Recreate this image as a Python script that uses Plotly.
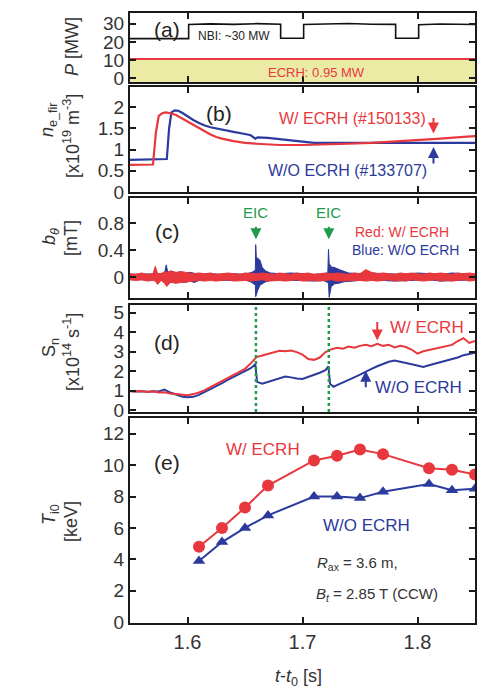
import plotly.graph_objects as go
from plotly.subplots import make_subplots

RED = "#e8383d"
BLUE = "#2b3a9c"
GREEN = "#1f9a4a"
YELLOW = "#ebeba6"
FONT = "Liberation Sans, Arial, sans-serif"

# ---------------- (a) heating power ----------------
nbi_t = [1.550, 1.601, 1.601, 1.620, 1.640, 1.660, 1.681, 1.681, 1.701, 1.701, 1.720, 1.740,
         1.760, 1.781, 1.781, 1.801, 1.801, 1.820, 1.850]
nbi_p = [21.8, 21.8, 29.6, 30.0, 29.7, 30.1, 29.8, 22.0, 22.0, 29.6, 29.9, 30.2,
         29.8, 29.7, 22.0, 22.0, 29.5, 29.9, 29.6]
ecrh_t = [1.550, 1.850]
ecrh_p = [10.6, 10.6]
a_range = [-2.2, 36]

# ---------------- (b) line density ----------------
ne_red_t = [1.550, 1.565, 1.570, 1.5725, 1.575, 1.578, 1.581, 1.585, 1.590, 1.595, 1.600, 1.605,
            1.610, 1.615, 1.620, 1.625, 1.630, 1.640, 1.650, 1.660, 1.670, 1.680, 1.700, 1.720,
            1.740, 1.760, 1.780, 1.800, 1.820, 1.840, 1.850]
ne_red = [0.64, 0.64, 0.65, 1.40, 1.80, 1.86, 1.88, 1.86, 1.82, 1.74, 1.66, 1.58,
          1.50, 1.42, 1.36, 1.30, 1.26, 1.20, 1.16, 1.14, 1.12, 1.11, 1.11, 1.12,
          1.14, 1.16, 1.19, 1.22, 1.26, 1.30, 1.32]
ne_blue_t = [1.550, 1.580, 1.582, 1.584, 1.586, 1.589, 1.592, 1.596, 1.600, 1.605, 1.610, 1.615,
             1.620, 1.630, 1.640, 1.650, 1.655, 1.659, 1.661, 1.670, 1.680, 1.690, 1.700, 1.710,
             1.720, 1.750, 1.780, 1.810, 1.850]
ne_blue = [0.76, 0.77, 0.78, 1.50, 1.88, 1.93, 1.92, 1.86, 1.78, 1.70, 1.63, 1.57,
           1.53, 1.47, 1.42, 1.37, 1.34, 1.26, 1.29, 1.28, 1.25, 1.21, 1.18, 1.16,
           1.16, 1.16, 1.15, 1.16, 1.16]

# ---------------- (c) magnetic fluctuation envelope ----------------
b_red_t = [1.550, 1.555, 1.560, 1.565, 1.570, 1.572, 1.574, 1.577, 1.580, 1.582, 1.585, 1.590,
           1.595, 1.600, 1.605, 1.610, 1.615, 1.620, 1.625, 1.630, 1.635, 1.640, 1.645, 1.650,
           1.655, 1.660, 1.665, 1.670, 1.675, 1.680, 1.685, 1.690, 1.695, 1.700, 1.705, 1.710,
           1.715, 1.720, 1.725, 1.730, 1.735, 1.740, 1.745, 1.750, 1.755, 1.760, 1.765, 1.770,
           1.775, 1.780, 1.785, 1.790, 1.795, 1.800, 1.805, 1.810, 1.815, 1.820, 1.825, 1.830,
           1.835, 1.840, 1.845, 1.850]
b_red_up = [0.05, 0.04, 0.06, 0.04, 0.05, 0.16, 0.05, 0.05, 0.08, 0.07, 0.09, 0.07,
            0.08, 0.06, 0.05, 0.06, 0.05, 0.06, 0.04, 0.05, 0.06, 0.05, 0.04, 0.06,
            0.05, 0.05, 0.06, 0.05, 0.04, 0.06, 0.05, 0.04, 0.06, 0.05, 0.06, 0.04,
            0.05, 0.06, 0.05, 0.06, 0.05, 0.04, 0.06, 0.05, 0.11, 0.07, 0.05, 0.06,
            0.05, 0.04, 0.06, 0.05, 0.06, 0.05, 0.04, 0.06, 0.05, 0.06, 0.05, 0.04,
            0.06, 0.05, 0.06, 0.05]
b_red_lo = [-0.04, -0.05, -0.04, -0.06, -0.05, -0.06, -0.11, -0.05, -0.09, -0.14, -0.08, -0.09,
            -0.07, -0.07, -0.06, -0.05, -0.06, -0.05, -0.06, -0.05, -0.04, -0.06, -0.05, -0.05,
            -0.06, -0.05, -0.04, -0.06, -0.05, -0.05, -0.06, -0.05, -0.04, -0.06, -0.05, -0.05,
            -0.06, -0.05, -0.04, -0.06, -0.05, -0.06, -0.05, -0.05, -0.06, -0.05, -0.06, -0.05,
            -0.04, -0.06, -0.05, -0.06, -0.04, -0.05, -0.06, -0.05, -0.04, -0.06, -0.05, -0.06,
            -0.05, -0.04, -0.06, -0.05]
b_blue_t = [1.550, 1.575, 1.580, 1.5815, 1.583, 1.586, 1.590, 1.594, 1.598, 1.602, 1.606, 1.610,
            1.620, 1.630, 1.640, 1.650, 1.656, 1.659, 1.6593, 1.6598, 1.661, 1.663, 1.665, 1.668,
            1.672, 1.680, 1.690, 1.700, 1.710, 1.718, 1.722, 1.7226, 1.7232, 1.725, 1.728, 1.732,
            1.736, 1.740, 1.750, 1.760, 1.770, 1.780, 1.790, 1.800, 1.810, 1.820, 1.830, 1.840, 1.850]
b_blue_up = [0.04, 0.04, 0.05, 0.18, 0.06, 0.09, 0.06, 0.08, 0.05, 0.07, 0.06, 0.04,
             0.05, 0.04, 0.05, 0.04, 0.07, 0.10, 0.48, 0.30, 0.28, 0.25, 0.14, 0.09,
             0.06, 0.05, 0.06, 0.05, 0.04, 0.05, 0.06, 0.41, 0.20, 0.15, 0.14, 0.11,
             0.08, 0.06, 0.05, 0.06, 0.05, 0.05, 0.04, 0.06, 0.05, 0.04, 0.06, 0.05, 0.04]
b_blue_lo = [-0.04, -0.04, -0.05, -0.06, -0.11, -0.07, -0.09, -0.06, -0.08, -0.06, -0.08, -0.05,
             -0.04, -0.05, -0.05, -0.04, -0.08, -0.12, -0.29, -0.25, -0.20, -0.12, -0.10, -0.07,
             -0.05, -0.06, -0.05, -0.05, -0.06, -0.05, -0.08, -0.10, -0.30, -0.14, -0.10, -0.09,
             -0.07, -0.06, -0.05, -0.04, -0.05, -0.06, -0.05, -0.05, -0.04, -0.06, -0.05, -0.05, -0.04]
eic_t = [1.6595, 1.7229]

# ---------------- (d) neutron rate ----------------
sn_red_t = [1.550, 1.555, 1.560, 1.565, 1.570, 1.575, 1.580, 1.585, 1.590, 1.595, 1.600, 1.605,
            1.610, 1.615, 1.620, 1.625, 1.630, 1.635, 1.640, 1.645, 1.650, 1.655, 1.660, 1.665,
            1.670, 1.675, 1.680, 1.685, 1.690, 1.695, 1.700, 1.705, 1.710, 1.715, 1.720, 1.725,
            1.730, 1.735, 1.740, 1.745, 1.750, 1.755, 1.760, 1.765, 1.770, 1.775, 1.780, 1.785,
            1.790, 1.795, 1.800, 1.805, 1.810, 1.815, 1.820, 1.825, 1.830, 1.835, 1.840, 1.845, 1.850]
sn_red = [0.97, 0.95, 0.98, 0.93, 0.96, 0.90, 0.92, 0.85, 0.83, 0.78, 0.76, 0.82,
          0.90, 1.02, 1.18, 1.32, 1.50, 1.66, 1.82, 1.96, 2.12, 2.40, 2.72, 2.80,
          2.88, 2.98, 3.05, 3.02, 3.06, 2.98, 2.85, 2.62, 2.58, 2.70, 2.98, 3.12,
          3.20, 3.15, 3.26, 3.20, 3.30, 3.35, 3.28, 3.40, 3.30, 3.36, 3.22, 3.30,
          3.24, 3.10, 2.90, 3.02, 3.08, 3.15, 3.20, 3.28, 3.35, 3.55, 3.70, 3.45, 3.55]
sn_blue_t = [1.550, 1.555, 1.560, 1.565, 1.570, 1.575, 1.580, 1.585, 1.590, 1.595, 1.600, 1.605,
             1.610, 1.615, 1.620, 1.625, 1.630, 1.635, 1.640, 1.645, 1.650, 1.655, 1.659, 1.6605,
             1.665, 1.670, 1.675, 1.680, 1.685, 1.690, 1.695, 1.700, 1.705, 1.710, 1.715, 1.720,
             1.7225, 1.724, 1.727, 1.730, 1.735, 1.740, 1.745, 1.750, 1.755, 1.760, 1.765, 1.770,
             1.775, 1.780, 1.785, 1.790, 1.795, 1.800, 1.805, 1.810, 1.815, 1.820, 1.825, 1.830,
             1.835, 1.840, 1.845, 1.850]
sn_blue = [0.98, 0.95, 0.97, 0.94, 0.97, 0.95, 1.05, 0.90, 0.80, 0.70, 0.66, 0.68,
           0.78, 0.92, 1.08, 1.22, 1.38, 1.55, 1.70, 1.85, 1.98, 2.15, 2.35, 1.45,
           1.35, 1.45, 1.55, 1.62, 1.72, 1.68, 1.62, 1.60, 1.70, 1.80, 1.92, 2.05,
           2.25, 1.35, 1.20, 1.28, 1.40, 1.55, 1.68, 1.82, 1.98, 2.12, 2.25, 2.38,
           2.48, 2.55, 2.50, 2.42, 2.35, 2.28, 2.22, 2.30, 2.38, 2.48, 2.55, 2.62,
           2.70, 2.82, 2.90, 2.95]

# ---------------- (e) ion temperature ----------------
ti_t = [1.61, 1.63, 1.65, 1.67, 1.71, 1.73, 1.75, 1.77, 1.81, 1.83, 1.85]
ti_red = [4.8, 6.0, 7.3, 8.7, 10.3, 10.6, 11.0, 10.7, 9.8, 9.7, 9.4]
ti_blue = [3.9, 5.1, 6.0, 6.8, 8.0, 8.0, 7.9, 8.3, 8.8, 8.4, 8.5]

x_range = [1.55, 1.85]
x_ticks = [1.6, 1.7, 1.8]

fig = make_subplots(rows=5, cols=1, shared_xaxes=True)

# (a)
fig.add_trace(go.Scatter(x=ecrh_t, y=[a_range[0]] * len(ecrh_t), mode="lines",
                         line=dict(width=0), showlegend=False, hoverinfo="skip"), row=1, col=1)
fig.add_trace(go.Scatter(x=ecrh_t, y=ecrh_p, mode="lines", fill="tonexty", fillcolor=YELLOW,
                         line=dict(color=RED, width=2), showlegend=False), row=1, col=1)
fig.add_trace(go.Scatter(x=nbi_t, y=nbi_p, mode="lines", line=dict(color="#111", width=1.6),
                         showlegend=False), row=1, col=1)
# (b)
fig.add_trace(go.Scatter(x=ne_blue_t, y=ne_blue, mode="lines", line=dict(color=BLUE, width=2.2),
                         showlegend=False), row=2, col=1)
fig.add_trace(go.Scatter(x=ne_red_t, y=ne_red, mode="lines", line=dict(color=RED, width=2.2),
                         showlegend=False), row=2, col=1)
# (c)
fig.add_trace(go.Scatter(x=b_blue_t + b_blue_t[::-1], y=b_blue_up + b_blue_lo[::-1], mode="lines",
                         fill="toself", fillcolor=BLUE, line=dict(color=BLUE, width=1),
                         showlegend=False), row=3, col=1)
fig.add_trace(go.Scatter(x=b_red_t + b_red_t[::-1], y=b_red_up + b_red_lo[::-1], mode="lines",
                         fill="toself", fillcolor=RED, line=dict(color=RED, width=1),
                         showlegend=False), row=3, col=1)
# (d)
fig.add_trace(go.Scatter(x=sn_blue_t, y=sn_blue, mode="lines", line=dict(color=BLUE, width=2),
                         showlegend=False), row=4, col=1)
fig.add_trace(go.Scatter(x=sn_red_t, y=sn_red, mode="lines", line=dict(color=RED, width=2),
                         showlegend=False), row=4, col=1)
# (e)
fig.add_trace(go.Scatter(x=ti_t, y=ti_red, mode="lines+markers", line=dict(color=RED, width=2),
                         marker=dict(symbol="circle", size=12, color=RED), showlegend=False),
              row=5, col=1)
fig.add_trace(go.Scatter(x=ti_t, y=ti_blue, mode="lines+markers", line=dict(color=BLUE, width=2),
                         marker=dict(symbol="triangle-up", size=11, color=BLUE), showlegend=False),
              row=5, col=1)

# EIC dotted lines in (d)
for t in eic_t:
    fig.add_shape(type="line", xref="x4", yref="y4 domain", x0=t, x1=t, y0=0, y1=1,
                  line=dict(color=GREEN, width=2.5, dash="dot"))

H_TOP, H_BOT = 13, 623
PLOT_H = H_BOT - H_TOP


def dom(top_px, bot_px):
    return [(H_BOT - bot_px) / PLOT_H, (H_BOT - top_px) / PLOT_H]


domains = [dom(13, 82), dom(87, 192), dom(198, 298), dom(305, 412), dom(418, 623)]
y_ranges = [a_range, [0, 2.48], [-0.31, 1.17], [-0.1, 5.4], [-0.05, 13]]
y_ticks = [[0, 10, 20, 30], [0, 0.5, 1, 1.5, 2], [0, 0.4, 0.8], [0, 1, 2, 3, 4, 5],
           [0, 2, 4, 6, 8, 10, 12]]
y_ticktext = [["0", "10", "20", "30"], ["0", "0.5", "1", "1.5", "2"], ["0", "0.4", "0.8"],
              ["0", "1", "2", "3", "4", "5"], ["0", "2", "4", "6", "8", "10", "12"]]

axis_common = dict(showline=True, linecolor="#1a1a1a", linewidth=2, mirror="ticks",
                   ticks="inside", ticklen=6, tickwidth=1.6, tickcolor="#1a1a1a",
                   showgrid=False, zeroline=False, automargin=False)
for i in range(5):
    sfx = "" if i == 0 else str(i + 1)
    fig.layout["xaxis" + sfx].update(range=x_range, tickvals=x_ticks, ticktext=["1.6", "1.7", "1.8"],
                                     showticklabels=(i == 4),
                                     tickfont=dict(size=20, color="#333", family=FONT),
                                     **axis_common)
    fig.layout["yaxis" + sfx].update(domain=domains[i], range=y_ranges[i], tickvals=y_ticks[i],
                                     ticktext=y_ticktext[i],
                                     tickfont=dict(size=19, color="#333", family=FONT),
                                     **axis_common)

ann = []


def txt(xref, yref, x, y, text, size, color="#222", xanchor="center"):
    ann.append(dict(xref=xref, yref=yref, x=x, y=y, text=text, showarrow=False,
                    font=dict(size=size, color=color, family=FONT), xanchor=xanchor,
                    yanchor="middle"))


def arrow(xref, yref, x, y, ay, color):
    ann.append(dict(xref=xref, yref=yref, x=x, y=y, ax=0, ay=ay, text="", showarrow=True,
                    arrowhead=2, arrowsize=1.1, arrowwidth=2, arrowcolor=color))


# (a)
txt("x", "y", 1.5826, 26.7, "(a)", 21)
txt("x", "y", 1.607, 23.5, "NBI: ~30 MW", 12, "#222", "left")
txt("x", "y", 1.712, 3.3, "ECRH: 0.95 MW", 13, RED)
# (b)
txt("x2", "y2", 1.627, 1.86, "(b)", 21)
txt("x2", "y2", 1.809, 1.74, "W/ ECRH (#150133)", 16, RED, "right")
txt("x2", "y2", 1.810, 0.51, "W/O ECRH (#133707)", 16, BLUE, "right")
arrow("x2", "y2", 1.8139, 1.38, -17, RED)
arrow("x2", "y2", 1.8139, 1.06, 18, BLUE)
# (c)
txt("x3", "y3", 1.5826, 0.67, "(c)", 21)
for t in eic_t:
    txt("x3", "y3", t, 0.95, "EIC", 15, GREEN)
    arrow("x3", "y3", t, 0.56, -14, GREEN)
txt("x3", "y3", 1.7435, 0.67, "Red: W/ ECRH", 14, RED, "left")
txt("x3", "y3", 1.7417, 0.40, "Blue: W/O ECRH", 14, BLUE, "left")
# (d)
txt("x4", "y4", 1.5826, 3.49, "(d)", 21)
txt("x4", "y4", 1.774, 4.26, "W/ ECRH", 17, RED, "left")
txt("x4", "y4", 1.761, 1.17, "W/O ECRH", 17, BLUE, "left")
arrow("x4", "y4", 1.765, 3.57, -20, RED)
arrow("x4", "y4", 1.755, 2.02, 18, BLUE)
# (e)
txt("x5", "y5", 1.5826, 10.15, "(e)", 21)
txt("x5", "y5", 1.666, 11.0, "W/ ECRH", 17, RED)
txt("x5", "y5", 1.7557, 6.18, "W/O ECRH", 17, BLUE)
txt("x5", "y5", 1.7113, 3.75, "<i>R</i><sub>ax</sub> = 3.6 m,", 15, "#333", "left")
txt("x5", "y5", 1.7096, 1.77, "<i>B</i><sub><i>t</i></sub> = 2.85 T (CCW)", 15, "#333", "left")

# axis titles
PLOT_L, PLOT_W = 130, 345


def px_x(p):
    return (p - PLOT_L) / PLOT_W


def px_y(p):
    return (H_BOT - p) / PLOT_H


def ytitle(xpx, ypx, text, size=18):
    ann.append(dict(xref="paper", yref="paper", x=px_x(xpx), y=px_y(ypx), text=text,
                    showarrow=False, textangle=-90, xanchor="center", yanchor="middle",
                    font=dict(size=size, color="#333", family=FONT)))


ytitle(72, 47, "<i>P</i> [MW]")
ytitle(48, 120, "<i>n</i><sub>e_fir</sub>")
ytitle(71, 136, "[x10<sup>19</sup> m<sup>-3</sup>]")
ytitle(50, 237, "<i>b</i><sub><i>θ</i></sub>")
ytitle(71, 238, "[mT]")
ytitle(50, 348, "S<sub>n</sub>")
ytitle(71, 352, "[x10<sup>14</sup> s<sup>-1</sup>]")
ytitle(50, 515, "<i>T</i><sub>i0</sub>")
ytitle(71, 522, "[keV]")
ann.append(dict(xref="paper", yref="paper", x=px_x(298), y=px_y(677),
                text="<i>t</i>-<i>t</i><sub>0</sub> [s]", showarrow=False,
                xanchor="center", yanchor="middle", font=dict(size=18, color="#333", family=FONT)))

fig.update_layout(width=478, height=690, autosize=False,
                  margin=dict(l=PLOT_L, r=478 - PLOT_L - PLOT_W, t=H_TOP, b=690 - H_BOT),
                  paper_bgcolor="white", plot_bgcolor="white", annotations=ann,
                  font=dict(family=FONT))

fig.write_html("out.html", config={"displayModeBar": False},
               post_script="document.body.style.margin='0';document.body.style.overflow='hidden';")
